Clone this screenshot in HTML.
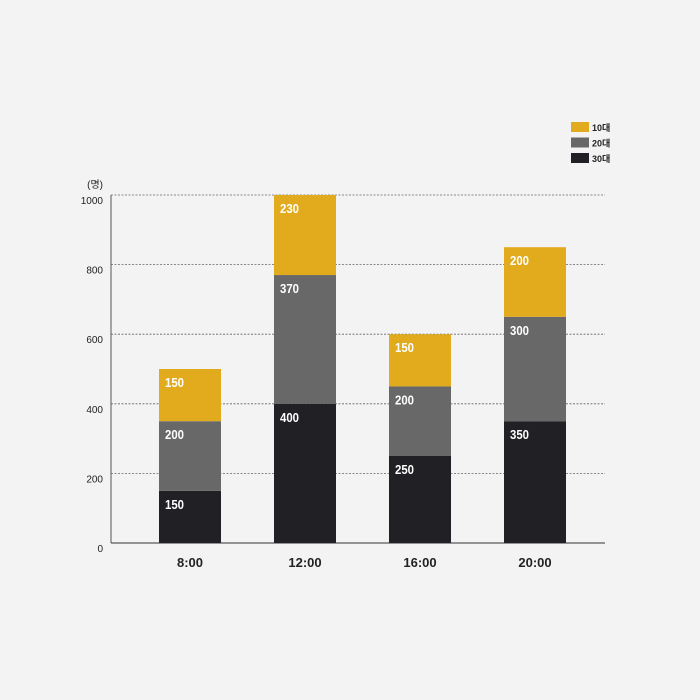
<!DOCTYPE html>
<html><head><meta charset="utf-8"><style>
body{margin:0;background:#f3f3f3;}
svg{display:block;font-family:"Liberation Sans","Noto Sans CJK KR",sans-serif;}
</style></head><body>
<svg id="c" width="700" height="700">
<rect width="700" height="700" fill="#f3f3f3"/>
</svg>
<script>
const categories=["8:00","12:00","16:00","20:00"];
const teens=[150,230,150,200];
const twenties=[200,370,200,300];
const thirties=[150,400,250,350];
const yTicks=[0,200,400,600,800,1000];
const seriesNames=["10대","20대","30대"];
const colors={t10:"#e2aa1d",t20:"#686868",t30:"#202025"};
const NS="http://www.w3.org/2000/svg";
const svg=document.getElementById('c');
function y(v){return 543-v*0.348;}
function xc(i){return 190+i*115;}
function mk(tag,attrs,parent){const e=document.createElementNS(NS,tag);for(const k in attrs)e.setAttribute(k,attrs[k]);(parent||svg).appendChild(e);return e;}
yTicks.forEach(t=>{
  if(t>0){const g=mk('line',{x1:111,x2:605,y1:y(t),y2:y(t),stroke:'#666','stroke-width':0.8,'stroke-dasharray':'2,1.5'});
  
  }
  const tx=mk('text',{x:103,y:y(t)+9,'text-anchor':'end','font-size':10,fill:'#222'});
  tx.textContent=t;
  
  
});
const yl=mk('text',{x:103,y:188,'text-anchor':'end','font-size':10,fill:'#222'});yl.textContent='(명)';


const ya=mk('line',{x1:111,x2:111,y1:195,y2:543,stroke:'#555','stroke-width':1});


const xa=mk('line',{x1:111,x2:605,y1:543,y2:543,stroke:'#333','stroke-width':1});


categories.forEach((c,i)=>{
  const segs=[[thirties[i],colors.t30,'30s'],[twenties[i],colors.t20,'20s'],[teens[i],colors.t10,'10s']];
  let base=0;
  segs.forEach(([v,col,n])=>{
    const r=mk('rect',{x:xc(i)-31,y:y(base+v),width:62,height:v*0.348,fill:col});
    
    
    const t=mk('text',{x:xc(i)-25,y:y(base+v)+18,'font-size':13,'font-weight':'bold',fill:'#fff',textLength:19,lengthAdjust:'spacingAndGlyphs'});
    t.textContent=v;
    
    
    base+=v;
  });
  const xl=mk('text',{x:xc(i),y:567,'text-anchor':'middle','font-size':13,'font-weight':'bold',fill:'#222'});
  xl.textContent=c;
  
  
});
[colors.t10,colors.t20,colors.t30].forEach((col,i)=>{
  const r=mk('rect',{x:571,y:122+i*15.5,width:18,height:10,fill:col});
  
  
  const t=mk('text',{x:592,y:131+i*15.5,'font-size':9,'font-weight':'bold',fill:'#222'});
  t.textContent=seriesNames[i];
  
  
});
</script>
</body></html>
